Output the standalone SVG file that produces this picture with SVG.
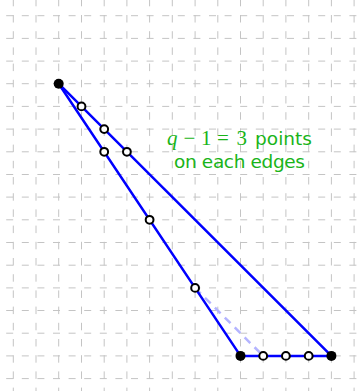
<svg xmlns="http://www.w3.org/2000/svg" width="363" height="391" viewBox="0 0 363 391">
<style>
.grid{fill:none;stroke:#c4c4c4;stroke-width:1}
.gh{stroke-dasharray:7 8.6}
.gv{stroke-dasharray:7.5 8.7}
.edge{fill:none;stroke:#0000ff;stroke-width:2.5;stroke-linecap:round}
.hint{fill:none;stroke:#b4b4ff;stroke-width:2.5;stroke-dasharray:8 6}
.vtx{fill:#000}
.pt{fill:#fff;stroke:#000;stroke-width:2}
.lbl{fill:#19b419;font-family:"DejaVu Sans","Liberation Sans",sans-serif;font-size:18.5px}
.m{font-family:"Liberation Serif","DejaVu Serif",serif;font-size:21px}
</style>
<rect width="363" height="391" fill="#fff"/>
<g id="grid">
<path class="grid gh" d="M-9.4 15.7H372M-9.4 38.4H372M-9.4 61.1H372M-9.4 83.7H372M-9.4 106.4H372M-9.4 129.1H372M-9.4 151.8H372M-9.4 174.5H372M-9.4 197.1H372M-9.4 219.8H372M-9.4 242.5H372M-9.4 265.2H372M-9.4 287.9H372M-9.4 310.5H372M-9.4 333.2H372M-9.4 355.9H372M-9.4 378.6H372"/>
<path class="grid gv" d="M13.3 -1.2V400M36 -1.2V400M58.7 -1.2V400M81.5 -1.2V400M104.2 -1.2V400M126.9 -1.2V400M149.6 -1.2V400M172.3 -1.2V400M195.1 -1.2V400M217.8 -1.2V400M240.5 -1.2V400M263.2 -1.2V400M285.9 -1.2V400M308.7 -1.2V400M331.4 -1.2V400M354.1 -1.2V400"/>
</g>
<g id="connectors">
<line class="hint" x1="195.1" y1="287.9" x2="263.2" y2="355.9"/>
<line class="edge" x1="58.7" y1="83.7" x2="240.5" y2="355.9"/>
<line class="edge" x1="58.7" y1="83.7" x2="331.4" y2="355.9"/>
<line class="edge" x1="240.5" y1="355.9" x2="331.4" y2="355.9"/>
</g>
<g id="vA"><circle class="vtx" cx="58.7" cy="83.7" r="5"/></g>
<g id="vB"><circle class="vtx" cx="240.5" cy="355.9" r="5"/></g>
<g id="vC"><circle class="vtx" cx="331.4" cy="355.9" r="5"/></g>
<g id="pAC1"><circle class="pt" cx="81.5" cy="106.4" r="3.9"/></g>
<g id="pAC2"><circle class="pt" cx="104.2" cy="129.1" r="3.9"/></g>
<g id="pAC3"><circle class="pt" cx="126.9" cy="151.8" r="3.9"/></g>
<g id="pAB1"><circle class="pt" cx="104.2" cy="151.8" r="3.9"/></g>
<g id="pAB2"><circle class="pt" cx="149.6" cy="219.8" r="3.9"/></g>
<g id="pAB3"><circle class="pt" cx="195.1" cy="287.9" r="3.9"/></g>
<g id="pBC1"><circle class="pt" cx="263.2" cy="355.9" r="3.9"/></g>
<g id="pBC2"><circle class="pt" cx="285.9" cy="355.9" r="3.9"/></g>
<g id="pBC3"><circle class="pt" cx="308.7" cy="355.9" r="3.9"/></g>
<g id="label">
<text class="lbl" y="145"><tspan class="m" font-style="italic" x="167">q</tspan><tspan class="m" x="183.5">−</tspan><tspan class="m" x="201">1</tspan><tspan class="m" x="217">=</tspan><tspan class="m" x="236.5">3</tspan><tspan x="255" textLength="57">points</tspan></text>
<text class="lbl" x="174" y="168" textLength="131">on each edges</text>
</g>
</svg>
